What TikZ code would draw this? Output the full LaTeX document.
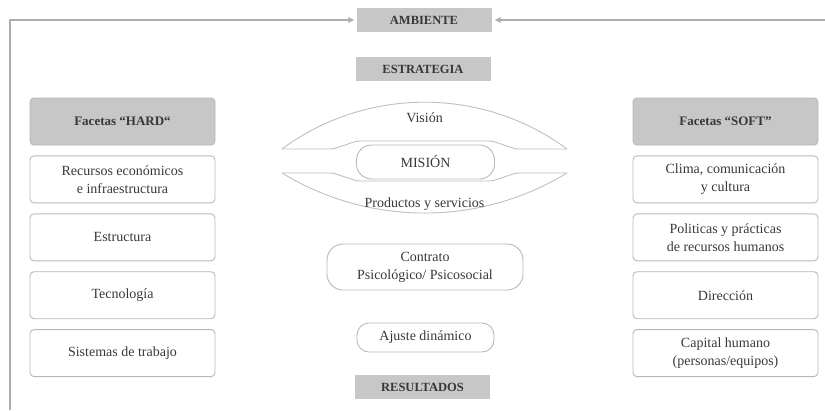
\documentclass[tikz,border=0pt]{standalone}
\usepackage{fontspec}
\setmainfont{Liberation Serif}
\usetikzlibrary{arrows.meta, positioning}

\begin{document}
\begin{tikzpicture}[x=1pt, y=-1pt,
  every node/.style={text=black!78, align=center},
  titlebox/.style={fill=black!22, minimum width=135pt, minimum height=24pt,
    inner sep=0pt, font=\fontsize{12.5}{14}\selectfont\bfseries},
  facetbox/.style={draw=black!28, line width=0.9pt, rounded corners=4pt,
    minimum width=185pt, minimum height=47pt, inner sep=0pt,
    font=\fontsize{14}{18}\selectfont},
  headbox/.style={facetbox, fill=black!22, font=\fontsize{13}{15}\selectfont\bfseries},
  pill/.style={draw=black!28, line width=0.9pt, inner sep=0pt,
    font=\fontsize{14}{18}\selectfont},
  link/.style={draw=black!32, line width=1.6pt, -{Triangle[length=6pt,width=5.5pt]}},
  lobe/.style={draw=black!25, line width=0.9pt},
  node distance=10pt]
  \useasboundingbox (0,0) rectangle (825,410);

  % Top, middle and bottom titles
  \node[titlebox] (amb) at (424,20) {AMBIENTE};
  \node[titlebox] (estr) at (423,69) {ESTRATEGIA};
  \node[titlebox] (res) at (422.5,387) {RESULTADOS};

  % Hard facets (left column)
  \node[headbox] (hard) at (122.5,121.5) {Facetas ``HARD``};
  \node[facetbox, below=of hard] (recursos) {Recursos económicos\\e infraestructura};
  \node[facetbox, below=of recursos] (estructura) {Estructura};
  \node[facetbox, below=of estructura] (tecno) {Tecnología};
  \node[facetbox, below=of tecno] (sistemas) {Sistemas de trabajo};

  % Soft facets (right column)
  \node[headbox] (soft) at (725.5,121.5) {Facetas ``SOFT''};
  \node[facetbox, below=of soft] (clima) {Clima, comunicación\\y cultura};
  \node[facetbox, below=of clima] (politicas) {Politicas y prácticas\\de recursos humanos};
  \node[facetbox, below=of politicas] (direccion) {Dirección};
  \node[facetbox, below=of direccion] (capital) {Capital humano\\(personas/equipos)};

  % Vision / products lobes round the mission
  \draw[lobe] (282,149) .. controls (366.4,86.6) and (482.6,86.6) .. (567,149);
  \draw[lobe, rounded corners=3pt] (282,149) -- (333,149) -- (357,141)
    -- (492,141) -- (516,149) -- (567,149);
  \draw[lobe] (282,173) .. controls (369.6,226.4) and (479.4,226.4) .. (567,173);
  \draw[lobe, rounded corners=3pt] (282,173) -- (333,173) -- (357,181)
    -- (492,181) -- (516,173) -- (567,173);
  \node[font=\fontsize{14}{18}\selectfont] (vision) at (424.5,118) {Visión};
  \node[font=\fontsize{14}{18}\selectfont] (productos) at (424.5,204) {Productos y servicios};

  \node[pill, minimum width=138pt, minimum height=34pt, rounded corners=15pt]
    (mision) at (425.5,162) {MISIÓN};
  \node[pill, minimum width=196pt, minimum height=46pt, rounded corners=16pt]
    (contrato) at (425,267) {Contrato\\Psicológico/ Psicosocial};
  \node[pill, minimum width=137pt, minimum height=29pt, rounded corners=12pt]
    (ajuste) at (425.5,337.5) {Ajuste dinámico};

  % Feedback lines into the environment
  \coordinate (lfoot) at (10,410);
  \coordinate (rend) at (825,20);
  \draw[link, shorten >=2pt] (lfoot) |- (amb.west);
  \draw[link, shorten >=3pt] (rend) -- (amb.east);
\end{tikzpicture}
\end{document}
